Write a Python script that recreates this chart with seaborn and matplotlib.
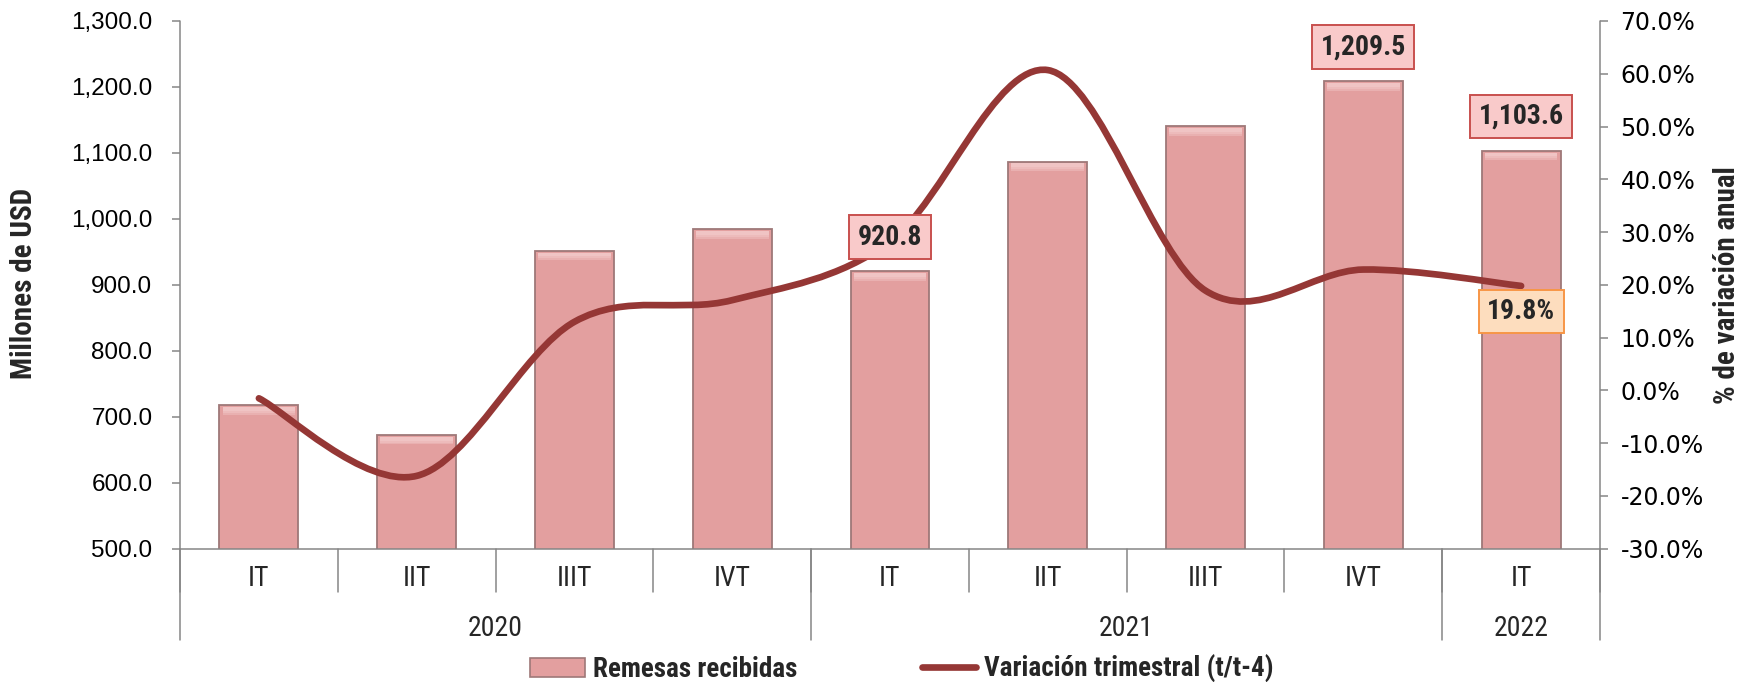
import numpy as np
import pandas as pd
import seaborn as sns
import matplotlib
matplotlib.use("Agg")
import matplotlib.pyplot as plt
from matplotlib.path import Path
from matplotlib.patches import PathPatch, Patch, Rectangle
from matplotlib.lines import Line2D
from matplotlib.ticker import MultipleLocator, FuncFormatter
from matplotlib.font_manager import FontProperties

# Quarterly remittances (millions of USD) and year-on-year change (%)
quarters = ["IT", "IIT", "IIIT", "IVT", "IT", "IIT", "IIIT", "IVT", "IT"]
years = ["2020", "2020", "2020", "2020", "2021", "2021", "2021", "2021", "2022"]
remesas = [718.0, 673.0, 952.0, 984.0, 920.8, 1087.0, 1141.0, 1209.5, 1103.6]
variacion = [-1.5, -16.2, 13.0, 17.1, 28.2, 60.7, 18.9, 22.9, 19.8]
bar_label_idx = [4, 7, 8]
line_label_idx = [8]
bar_name = "Remesas recibidas"
line_name = "Variación trimestral (t/t-4)"

sns.set_theme(style="white")
plt.rcParams["font.family"] = ["Liberation Sans", "DejaVu Sans"]


def narrow(size, weight="normal"):
    return FontProperties(family=["Liberation Sans Narrow", "Roboto Condensed", "DejaVu Sans"],
                          stretch="condensed", weight=weight, size=size)


BAR_FC = "#E39F9F"
BAR_EC = "#9E7878"
LINE_C = "#953735"
AXIS_C = "#868686"

periodo = [f"{q} {y}" for q, y in zip(quarters, years)]
df = pd.DataFrame({"periodo": periodo, "remesas": remesas})

fig = plt.figure(figsize=(17.4, 6.82), dpi=100)
ax = fig.add_axes([180 / 1740, 1 - 548.7 / 682, 1420 / 1740, 527.7 / 682])

sns.barplot(data=df, x="periodo", y="remesas", order=periodo, color=BAR_FC,
            saturation=1, width=0.5, edgecolor=BAR_EC, linewidth=1.3, ax=ax)

# soft bevel highlight along the top of every bar
for p in list(ax.patches):
    x0, w, top = p.get_x(), p.get_width(), p.get_y() + p.get_height()
    for k, (h, c) in enumerate([(12, "#E9B0B0"), (9, "#EDBBBB"), (6, "#F0C4C4")]):
        ax.add_patch(Rectangle((x0 + w * 0.04, top - 3 - h), w * 0.92, h,
                               facecolor=c, edgecolor="none", zorder=p.get_zorder() + 0.1 + k * 0.01))

ax.set_xlim(-0.5, len(quarters) - 0.5)
ax.set_ylim(500, 1300)
ax.yaxis.set_major_locator(MultipleLocator(100))
ax.yaxis.set_major_formatter(FuncFormatter(lambda v, _: f"{v:,.1f}"))
ax.set_xticks([])
ax.set_xlabel("")
ax.set_ylabel("")
ax.tick_params(axis="y", which="both", left=True, length=5.8, width=1.1,
               color=AXIS_C, labelsize=17.5, pad=14, labelcolor="black")
for lab in ax.get_yticklabels():
    lab.set_fontfamily("Liberation Sans")
for s in ["top", "left", "right"]:
    ax.spines[s].set_visible(False)
ax.spines["bottom"].set_color(AXIS_C)
ax.spines["bottom"].set_linewidth(1.1)

# secondary axis: annual variation line
ax2 = ax.twinx()
ax2.set_ylim(-30, 70)
ax2.yaxis.set_major_locator(MultipleLocator(10))
ax2.yaxis.set_major_formatter(FuncFormatter(lambda v, _: f"{v:.1f}%"))
ax2.tick_params(axis="y", right=True, length=5.8, width=1.1, color=AXIS_C,
                labelsize=17, pad=9, labelcolor="black")
for lab in ax2.get_yticklabels():
    lab.set_fontfamily("DejaVu Sans")
for s in ax2.spines.values():
    s.set_visible(False)
ax2.grid(False)
ax.grid(False)

# smoothed line through the quarterly values (Bezier segments)
xs = np.arange(len(variacion), dtype=float)
ys = np.array(variacion, dtype=float)
pts = np.column_stack([xs, ys])
verts = [tuple(pts[0])]
codes = [Path.MOVETO]
n = len(pts)
for i in range(n - 1):
    p0 = pts[i - 1] if i > 0 else pts[i]
    p1, p2 = pts[i], pts[i + 1]
    p3 = pts[i + 2] if i + 2 < n else pts[i + 1]
    c1 = p1 + (p2 - p0) / 6.0
    c2 = p2 - (p3 - p1) / 6.0
    verts += [tuple(c1), tuple(c2), tuple(p2)]
    codes += [Path.CURVE4] * 3
ax2.add_patch(PathPatch(Path(verts, codes), facecolor="none", edgecolor=LINE_C,
                        lw=4.8, capstyle="round", joinstyle="round", zorder=3))

# category axis: quarter and year rows with separators
trans = ax.get_xaxis_transform()
ext_q = -(592 - 548.7) / 527.7
ext_y = -(640 - 548.7) / 527.7
bounds = np.arange(len(quarters) + 1) - 0.5
for b in bounds:
    ax.plot([b, b], [0, ext_q], transform=trans, clip_on=False, color=AXIS_C, lw=1.1)
year_bounds = [-0.5] + [i - 0.5 for i in range(1, len(years)) if years[i] != years[i - 1]] + [len(years) - 0.5]
for b in year_bounds:
    top = 1 if b in (-0.5, len(years) - 0.5) else 0
    ax.plot([b, b], [top, ext_y], transform=trans, clip_on=False, color=AXIS_C, lw=1.1)
for i, q in enumerate(quarters):
    ax.text(i, -(579 - 548.7) / 527.7, q, transform=trans, ha="center", va="center",
            fontproperties=narrow(20))
for y in dict.fromkeys(years):
    idx = [i for i, yy in enumerate(years) if yy == y]
    ax.text(np.mean(idx), -(628 - 548.7) / 527.7, y, transform=trans, ha="center",
            va="center", fontproperties=narrow(20))

# value labels
for i in bar_label_idx:
    ax2.annotate(f"{remesas[i]:,.1f}", xy=(i, remesas[i]), xycoords=ax.transData,
                 xytext=(0, 24.5), textcoords="offset points", ha="center", va="center",
                 fontproperties=narrow(20, "bold"), zorder=10,
                 bbox=dict(boxstyle="square,pad=0.3", fc="#F9CACA", ec="#C8504E", lw=1.4))
for i in line_label_idx:
    ax2.annotate(f"{variacion[i]:.1f}%", xy=(i, variacion[i]), xycoords=ax2.transData,
                 xytext=(0, -18.5), textcoords="offset points", ha="center", va="center",
                 fontproperties=narrow(20, "bold"), zorder=10,
                 bbox=dict(boxstyle="square,pad=0.3", fc="#FDDDBE", ec="#F79646", lw=1.4))

# axis titles
fig.text(24 / 1740, 1 - 283 / 682, "Millones de USD", rotation=90, ha="center", va="center",
         fontproperties=narrow(21, "bold"))
fig.text(1727 / 1740, 1 - 285 / 682, "% de variación anual", rotation=90, ha="center",
         va="center", fontproperties=narrow(21, "bold"))

handles = [Patch(facecolor=BAR_FC, edgecolor=BAR_EC, linewidth=1.2),
           Line2D([0], [0], color=LINE_C, lw=4.8, solid_capstyle="round")]
fig.legend(handles, [bar_name, line_name], loc="center",
           bbox_to_anchor=(902 / 1740, 1 - 669 / 682), ncol=2, frameon=False,
           prop=narrow(19.5, "bold"),
           handlelength=2.0, handleheight=0.7, handletextpad=0.3, columnspacing=4.6)

fig.savefig("out.png", dpi=100)
